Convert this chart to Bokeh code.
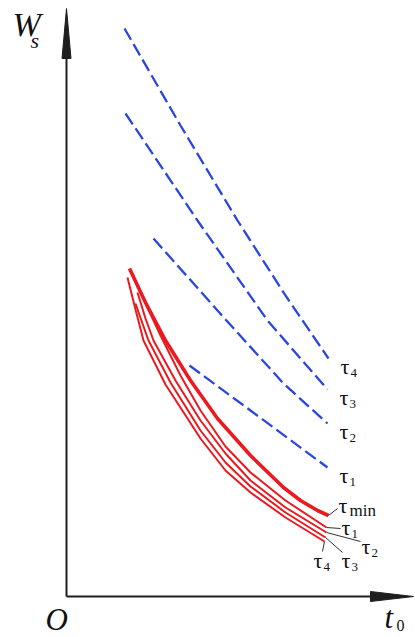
from bokeh.plotting import figure
from bokeh.models import Range1d
from bokeh.core.properties import value
from bokeh.embed import file_html
from bokeh.resources import INLINE

# ---- data read from the schematic (origin at O; units ~ picture pixels) ----
# blue dashed curves
dash_tau1_t0 = [123, 184, 261]
dash_tau1_ws = [231, 186, 129]
dash_tau2_t0 = [87, 151, 217, 261]
dash_tau2_ws = [358, 286, 213, 173]
dash_tau3_t0 = [59, 131, 201, 261]
dash_tau3_ws = [483, 376, 276, 207]
dash_tau4_t0 = [58, 114, 171, 219, 262]
dash_tau4_ws = [568, 471, 376, 301, 238]

# red solid curves
red_min_t0 = [63, 79, 99, 124, 151, 184, 217, 234, 251, 262]
red_min_ws = [328, 294, 256, 216, 178, 141, 109, 96, 86, 81]
red_tau1_t0 = [65, 79, 94, 114, 134, 159, 184, 219, 260]
red_tau1_ws = [324, 293, 261, 221, 186, 150, 124, 96, 69]
red_tau2_t0 = [71, 79, 87, 109, 134, 159, 184, 219, 260]
red_tau2_ws = [304, 278, 256, 216, 176, 143, 116, 89, 64]
red_tau3_t0 = [69, 76, 82, 104, 134, 159, 184, 219, 259]
red_tau3_ws = [293, 273, 256, 214, 166, 134, 110, 84, 59]
red_tau4_t0 = [61, 69, 77, 99, 134, 159, 184, 219, 258]
red_tau4_ws = [319, 287, 256, 212, 158, 126, 104, 79, 55]

blue_subs = ["1", "2", "3", "4"]
red_subs = ["min", "1", "2", "3", "4"]

# ---- layout / style ----
X0, X1 = -66, 349
Y0, Y1 = -41, 596
X_AXIS_END = 347
Y_AXIS_END = 588
FONT = value("Liberation Serif")
BLUE = "#2a46de"
RED = "#ea1a20"
AX = "#1e1e1e"
TXT = "#111111"

p = figure(width=415, height=637, x_range=Range1d(X0, X1), y_range=Range1d(Y0, Y1),
           output_backend="svg", toolbar_location=None, min_border=0,
           x_axis_location=None, y_axis_location=None, title=None)
p.grid.visible = False
p.outline_line_color = None
p.background_fill_color = "white"

# axes with arrows
p.segment(x0=[0, 0], y0=[0, 0], x1=[X_AXIS_END - 43, 0], y1=[0, Y_AXIS_END - 50],
          line_color=AX, line_width=2)
p.patch([X_AXIS_END - 43, X_AXIS_END, X_AXIS_END - 43], [-5, 0, 5], color=AX)
p.patch([-4.5, 0, 4.5], [Y_AXIS_END - 50, Y_AXIS_END, Y_AXIS_END - 50], color=AX)


def tau_label(x, y, sub):
    p.text([x], [y], text=["τ"], text_font=FONT, text_font_size="22px",
           text_baseline="middle", text_align="left", text_color=TXT)
    if sub == "min":
        p.text([x + 11], [y - 5], text=[sub], text_font=FONT, text_font_size="17px",
               text_baseline="middle", text_align="left", text_color=TXT)
    else:
        p.text([x + 10], [y - 6], text=[sub], text_font=FONT, text_font_size="13px",
               text_baseline="middle", text_align="left", text_color=TXT)


# blue dashed
blue = [(dash_tau1_t0, dash_tau1_ws), (dash_tau2_t0, dash_tau2_ws),
        (dash_tau3_t0, dash_tau3_ws), (dash_tau4_t0, dash_tau4_ws)]
for (xs, ys), sub in zip(blue, blue_subs):
    p.line(xs, ys, line_color=BLUE, line_width=2.3, line_dash="13 5")
    tau_label(xs[-1] + 12, ys[-1] - 8, sub)

# red solid
red = [(red_min_t0, red_min_ws), (red_tau1_t0, red_tau1_ws), (red_tau2_t0, red_tau2_ws),
       (red_tau3_t0, red_tau3_ws), (red_tau4_t0, red_tau4_ws)]
widths = [3.6, 2, 2, 2, 2]
# (leader dx, dy), (tau dx, dy)
offsets = [((9, 7), (10, 10)),
           ((14, -1), (15, 0)),
           ((34, -9), (35, -14)),
           ((17, -15), (16, -23)),
           ((-2, -10), (-11, -19))]
for (xs, ys), sub, w, off in zip(red, red_subs, widths, offsets):
    p.line(xs, ys, line_color=RED, line_width=w)
    ex, ey = xs[-1], ys[-1]
    (lx, ly), (tx, ty) = off
    p.segment(x0=[ex], y0=[ey], x1=[ex + lx], y1=[ey + ly], line_color="#333333", line_width=1)
    tau_label(ex + tx, ey + ty, sub)

# axis titles
p.text([-54], [572], text=["W"], text_font=FONT, text_font_size="34px",
       text_font_style="italic", text_baseline="middle", text_align="left", text_color=TXT)
p.text([-36], [556], text=["s"], text_font=FONT, text_font_size="22px",
       text_font_style="italic", text_baseline="middle", text_align="left", text_color=TXT)
p.text([-21], [-23], text=["O"], text_font=FONT, text_font_size="31px",
       text_font_style="italic", text_baseline="middle", text_align="left", text_color=TXT)
p.text([318], [-21], text=["t"], text_font=FONT, text_font_size="31px",
       text_font_style="italic", text_baseline="middle", text_align="left", text_color=TXT)
p.text([330], [-29], text=["0"], text_font=FONT, text_font_size="16px",
       text_baseline="middle", text_align="left", text_color=TXT)

open("out.html", "w").write(file_html(p, INLINE))
